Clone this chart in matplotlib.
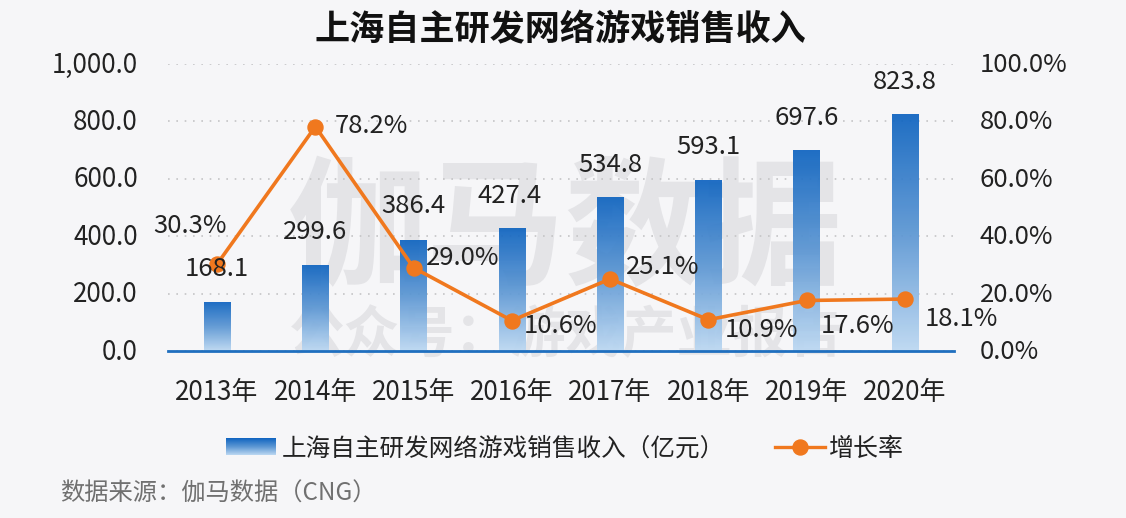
#!/usr/bin/env python
# Shanghai self-developed game revenue, bars with gradient fill and growth rate line

import matplotlib
matplotlib.use("Agg")
import matplotlib.pyplot as plt
import matplotlib.ticker as mt
import numpy as np
from matplotlib.colors import LinearSegmentedColormap
from matplotlib.lines import Line2D
from matplotlib.transforms import ScaledTranslation

plt.rcParams['font.family'] = ['Noto Sans CJK SC', 'DejaVu Sans']

years = ["2013年", "2014年", "2015年", "2016年", "2017年", "2018年", "2019年", "2020年"]
revenue = [168.1, 299.6, 386.4, 427.4, 534.8, 593.1, 697.6, 823.8]
growth = [30.3, 78.2, 29.0, 10.6, 25.1, 10.9, 17.6, 18.1]

# label offsets in pixels from the point (dx, dy)
revenue_off = [(0, 34), (0, 33), (0, 34), (-2, 32), (0, 33), (0, 34), (0, 33), (0, 33)]
growth_off = [(-27, 38), (56, 1), (49, 10), (49, -5), (53, 12), (53, -10), (51, -26), (57, -20)]

bg = "#f6f6f8"
orange = "#f0781e"
text_col = "#222222"
grad = LinearSegmentedColormap.from_list("bar", ["#0f64c0", "#5b96d3", "#bcd8f2"])
gradient = np.linspace(0, 1, 256).reshape(-1, 1)

W, H = 1126, 518
fig = plt.figure(figsize=(W / 100, H / 100), dpi=100, facecolor=bg)
ax = fig.add_axes([168 / W, 1 - 351 / H, 786 / W, 287 / H], facecolor="none")
ax2 = ax.twinx()
ax2.set_facecolor("none")

# watermark
ax.text(3.55, 411, "伽马数据", fontsize=100, fontweight="bold", color="#e4e4e7",
        ha="center", va="center", zorder=0)
ax.text(3.55, 52, "公众号：游戏产业报告", fontsize=40, fontweight="bold", color="#e4e4e7",
        ha="center", va="center", zorder=0, clip_on=False)

x = np.arange(len(years))
for i in range(len(years)):
    ax.imshow(gradient, cmap=grad, aspect="auto", zorder=2, alpha=0.93,
              extent=[x[i] - 0.135, x[i] + 0.135, 0, revenue[i]])

ax.set_xlim(-0.5, 7.5)
ax.set_ylim(0, 1000)
ax.set_xticks(x)
ax.set_xticklabels(years)
ax.set_yticks(range(0, 1001, 200))
ax.yaxis.set_major_formatter(mt.FuncFormatter(lambda v, p: format(v, ',.1f')))
ax.grid(axis="y", color="#c4c4c6", linestyle=(0, (1, 4)), linewidth=1.2, zorder=1)
ax.set_axisbelow(True)
for s in ax.spines.values():
    s.set_visible(False)
ax.spines["bottom"].set_visible(True)
ax.spines["bottom"].set_color("#1f6fbf")
ax.spines["bottom"].set_linewidth(2)
ax.tick_params(axis="both", length=0, labelsize=18.7, labelcolor=text_col)
ax.tick_params(axis="x", pad=20.5)
ax.tick_params(axis="y", pad=21.6)

ax2.plot(x, growth, color=orange, linewidth=2.6, marker="o", markersize=10.8, zorder=5)
ax2.set_ylim(0, 100)
ax2.set_yticks(range(0, 101, 20))
ax2.yaxis.set_major_formatter(mt.FuncFormatter(lambda v, p: f"{v:.1f}%"))
ax2.tick_params(axis="y", length=0, labelsize=18.5, labelcolor=text_col, pad=18.7)
for s in ax2.spines.values():
    s.set_visible(False)

# y tick labels sit a little above the grid lines
shift = ScaledTranslation(0, 2 / 100, fig.dpi_scale_trans)
for label in ax.get_yticklabels() + ax2.get_yticklabels():
    label.set_transform(label.get_transform() + shift)

for i in range(len(years)):
    ax2.annotate(f"{revenue[i]:.1f}", (x[i], revenue[i] / 10), xytext=revenue_off[i],
                 textcoords="offset pixels", fontsize=18.5, color=text_col,
                 ha="center", va="center", zorder=6)
    ax2.annotate(f"{growth[i]:.1f}%", (x[i], growth[i]), xytext=growth_off[i],
                 textcoords="offset pixels", fontsize=18.5, color=text_col,
                 ha="center", va="center", zorder=6, annotation_clip=False)

fig.text(560 / W, 1 - 30 / H, "上海自主研发网络游戏销售收入", fontsize=25.3, fontweight="bold",
         color="#111111", ha="center", va="center")

# legend
swatch = fig.add_axes([226 / W, 1 - 455 / H, 50 / W, 17 / H])
swatch.imshow(gradient, cmap=grad, aspect="auto")
swatch.axis("off")
fig.text(282 / W, 1 - 449 / H, "上海自主研发网络游戏销售收入（亿元）", fontsize=17.7, color=text_col,
         ha="left", va="center")
fig.add_artist(Line2D([775 / W, 825 / W], [1 - 447 / H] * 2, color=orange, linewidth=2.4))
fig.add_artist(Line2D([800 / W], [1 - 447 / H], color=orange, marker="o", markersize=10.8))
fig.text(829 / W, 1 - 449 / H, "增长率", fontsize=18, color=text_col, ha="left", va="center")

fig.text(60 / W, 1 - 494 / H, "数据来源：伽马数据（CNG）", fontsize=17.5, color="#707070",
         ha="left", va="center")

fig.savefig("out.png", dpi=100, facecolor=bg)
